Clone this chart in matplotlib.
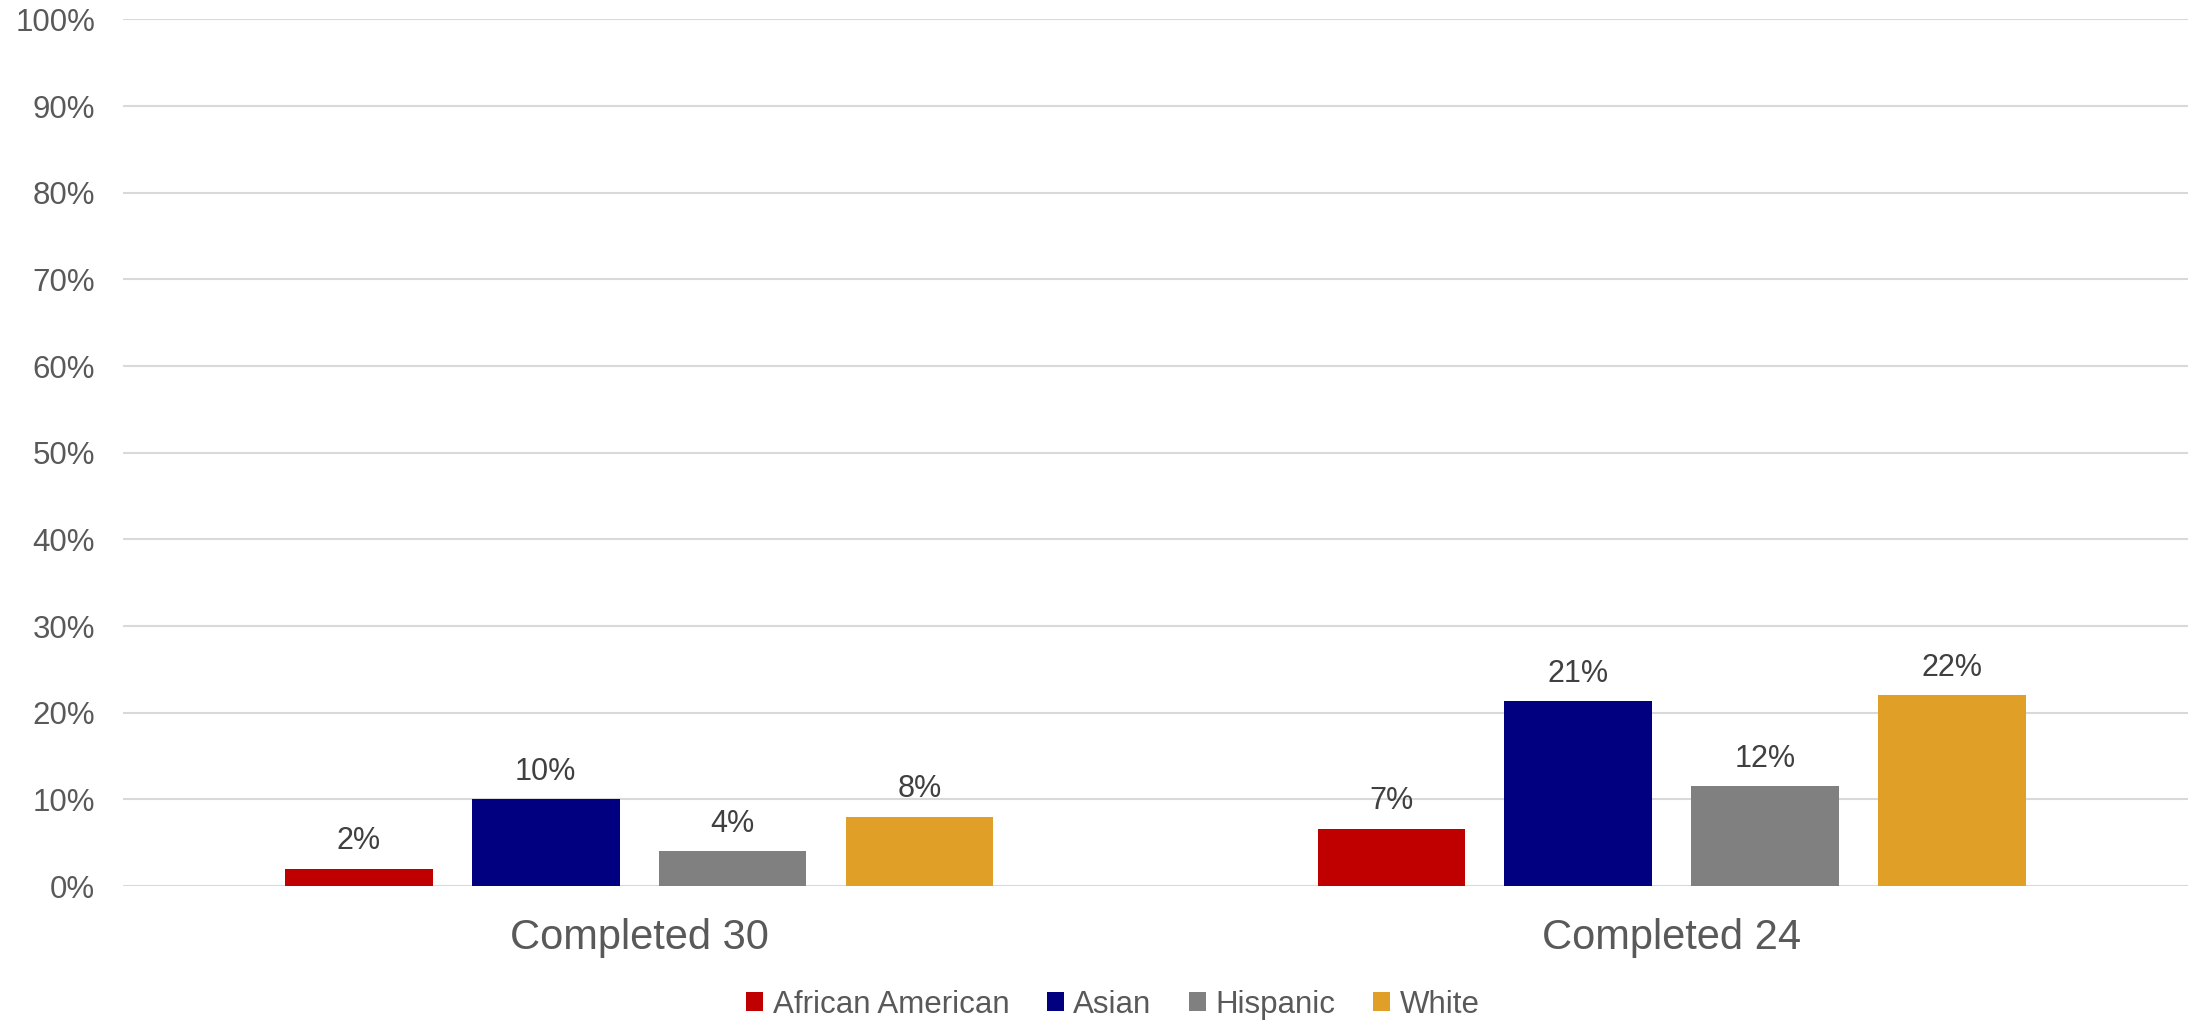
import matplotlib.pyplot as plt
import numpy as np

plt.rcParams['font.family'] = ['Liberation Sans', 'DejaVu Sans']

categories = ['Completed 30', 'Completed 24']
groups = ['African American', 'Asian', 'Hispanic', 'White']
values = {
    'African American': [0.020, 0.066],
    'Asian': [0.100, 0.213],
    'Hispanic': [0.040, 0.115],
    'White': [0.080, 0.220],
}
labels = {
    'African American': ['2%', '7%'],
    'Asian': ['10%', '21%'],
    'Hispanic': ['4%', '12%'],
    'White': ['8%', '22%'],
}
bar_colors = ['#C00000', '#000080', '#808080', '#E0A027']
yticks = np.arange(0, 1.01, 0.1)

fig = plt.figure(figsize=(21.95, 10.22), dpi=100)
ax = fig.add_axes([0.056, 0.133, 0.9408, 0.848])

x = np.arange(len(categories))
pitch = 0.181
width = 0.143
for i, (g, c) in enumerate(zip(groups, bar_colors)):
    xs = x + (i - 1.5) * pitch
    bars = ax.bar(xs, values[g], width=width, color=c, label=g, zorder=3)
    for b, lab in zip(bars, labels[g]):
        ax.annotate(lab, (b.get_x() + b.get_width() / 2, b.get_height()),
                    xytext=(0, 9), textcoords='offset points',
                    ha='center', va='bottom', fontsize=22, color='#404040')

ax.set_xlim(-0.5, 1.5)
ax.set_ylim(0, 1.0)
ax.set_yticks(yticks)
ax.set_yticklabels([f'{int(round(t * 100))}%' for t in yticks])
ax.set_xticks(x)
ax.set_xticklabels(categories)
ax.tick_params(axis='y', length=0, pad=20, labelsize=22.5, labelcolor='#595959')
ax.tick_params(axis='x', length=0, pad=23, labelsize=30, labelcolor='#595959')
ax.grid(axis='y', color='#D9D9D9', linewidth=1.5, zorder=0)
ax.set_axisbelow(True)
for s in ax.spines.values():
    s.set_visible(False)

leg = fig.legend(loc='center', bbox_to_anchor=(0.507, 0.017), ncol=4,
                 frameon=False, fontsize=22.5, handlelength=0.55,
                 handleheight=0.55, handletextpad=0.3, columnspacing=1.2)
for t in leg.get_texts():
    t.set_color('#595959')

fig.savefig('out.png', dpi=100)
